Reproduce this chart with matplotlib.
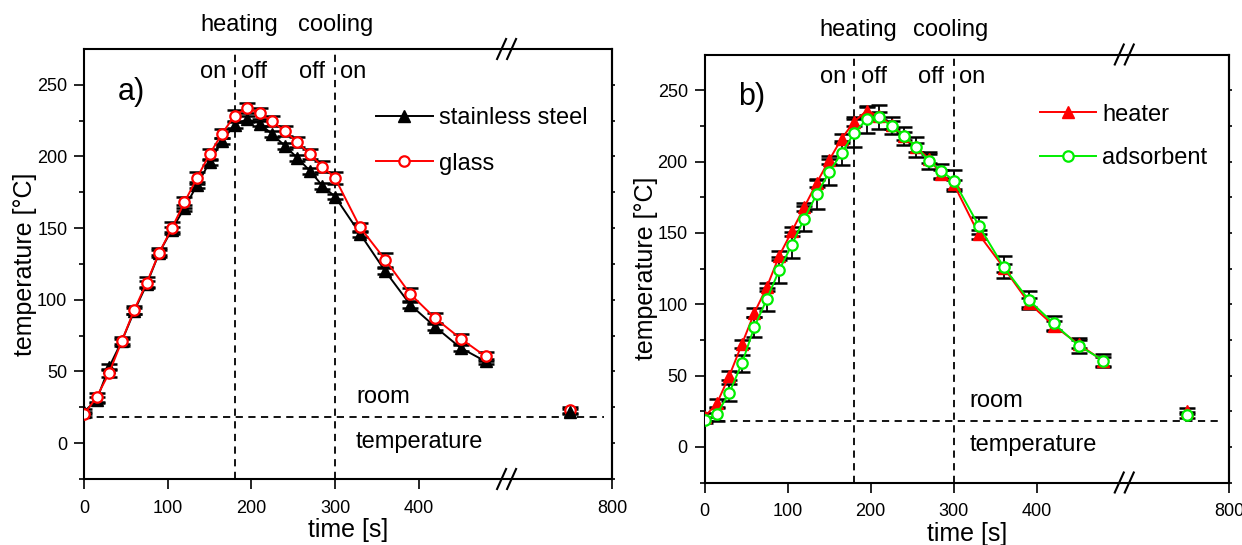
import numpy as np
import matplotlib
matplotlib.use("Agg")
import matplotlib.pyplot as plt

plt.rcParams['font.family'] = ['Liberation Sans', 'DejaVu Sans']

# time points [s]
t = [0, 15, 30, 45, 60, 75, 90, 105, 120, 135, 150, 165, 180, 195, 210,
     225, 240, 255, 270, 285, 300, 330, 360, 390, 420, 450, 480]
t_late = [750]

# panel a)
steel = [22, 30, 53, 71, 92, 111, 133, 149, 164, 180, 196, 211, 222, 226, 223,
         215.5, 207.5, 199, 190, 179.5, 172, 146, 120, 96.5, 81, 66.5, 57]
steel_err = [2] * len(t)
glass = [20, 32, 49, 71, 93, 112, 133, 150, 168, 185, 201.5, 216, 228.5, 234, 230,
         224.5, 217.5, 210, 201.5, 193, 185, 150.5, 128, 104, 87, 73, 60.5]
glass_err = [2, 3, 3, 3, 3, 4, 3, 4, 4, 4, 4, 3, 4, 3.5, 3.5,
             3.5, 3.5, 3.5, 3.5, 4, 4, 3, 5, 4.5, 3.5, 3.5, 3]
steel_late, glass_late = [22], [23]

# panel b)
heater = [21, 30.5, 50, 72, 94, 112, 134, 151, 168, 185, 201, 216, 228, 235.5, 232,
          225.5, 218, 210, 202, 191, 184, 149, 125.5, 101, 85, 72, 60]
heater_err = [3] * len(t)
adsorb = [19, 23, 38, 58.5, 84, 103.5, 124, 141.5, 160, 177, 192.5, 206, 220, 229.5, 231,
          225, 218, 210, 200.5, 193.5, 186.5, 155, 126, 103, 86.5, 71, 60.5]
adsorb_err = [2, 5, 6, 6, 7, 8, 9, 9, 9, 10, 9, 8.5, 10, 9.5, 8.5,
              6, 6.5, 7, 6, 5, 7.5, 6, 8, 6.5, 5, 5.5, 4.5]
heater_late, adsorb_late = [25], [22.5]

B1, B2 = 505, 674   # axis break (collapsed range)


def fwd(x):
    x = np.asarray(x, dtype=float)
    return np.where(x <= B1, x, np.where(x >= B2, x - (B2 - B1), B1))


def inv(y):
    y = np.asarray(y, dtype=float)
    return np.where(y <= B1, y, y + (B2 - B1))


fig = plt.figure(figsize=(12.42, 5.45), dpi=100)
axA = fig.add_axes([84 / 1242, 1 - 479 / 545, 528 / 1242, 430 / 545])
axB = fig.add_axes([704.5 / 1242, 1 - 482.5 / 545, 524.5 / 1242, 428 / 545])

FS = 17


def style(ax, wpx, hpx):
    ax.set_xscale('function', functions=(fwd, inv))
    ax.set_xlim(0, 800)
    ax.set_ylim(-25, 275)
    ax.set_xticks([0, 100, 200, 300, 400, 800])
    ax.set_yticks([0, 50, 100, 150, 200, 250])
    ax.set_yticks(np.arange(-25, 275, 50), minor=True)
    ax.xaxis.set_minor_locator(matplotlib.ticker.NullLocator())
    ax.tick_params(axis='both', which='major', direction='out', length=7,
                   width=1.2, labelsize=13)
    ax.tick_params(axis='y', which='minor', direction='out', length=3.5, width=1.2)
    ax.tick_params(axis='x', pad=8)
    ax.tick_params(axis='y', pad=5)
    for s in ax.spines.values():
        s.set_linewidth(1.5)
    sec = ax.secondary_yaxis('right')
    sec.set_yticks(np.arange(-25, 275, 25))
    sec.tick_params(direction='out', length=2.5, width=1.2, labelright=False)
    sec.spines['right'].set_linewidth(1.5)
    ax.set_xlabel('time [s]', fontsize=FS + 1, labelpad=1)
    ax.set_ylabel('temperature [°C]', fontsize=FS + 1, labelpad=0)
    ax.axhline(18, xmin=0, xmax=0.985, color='black', ls=(0, (4, 3)), lw=1.3)
    ax.axvline(180, color='black', ls=(0, (4, 3)), lw=1.3)
    ax.axvline(300, color='black', ls=(0, (4, 3)), lw=1.3)
    # break marks
    xf = B1 / (800 - (B2 - B1))
    dx, dy = 4.5 / wpx, 10 / hpx
    for yb in (0, 1):
        for off in (-5 / wpx, 5 / wpx):
            ax.plot([xf + off - dx, xf + off + dx], [yb - dy, yb + dy],
                    transform=ax.transAxes, color='black', lw=1.5,
                    clip_on=False, zorder=6)


style(axA, 528, 430)
style(axB, 524.5, 428)

ekw = dict(fmt='none', ecolor='black', elinewidth=1.3, capsize=6, capthick=1.8, zorder=3)

# panel a)
axA.errorbar(t + t_late, steel + steel_late, yerr=steel_err + [2], **ekw)
axA.errorbar(t + t_late, glass + glass_late, yerr=glass_err + [2], **ekw)
lA1, = axA.plot(t, steel, '-^', color='black', lw=1.4, ms=9, zorder=4,
                label='stainless steel')
lA2, = axA.plot(t, glass, '-o', color='red', lw=1.4, ms=7.5, mfc='white',
                mew=1.6, zorder=5, label='glass')
axA.plot(t_late, glass_late, 'o', color='red', ms=7.5, mfc='white', mew=1.6, zorder=4)
axA.plot(t_late, steel_late, '^', color='black', ms=9, zorder=5)

# panel b)
axB.errorbar(t + t_late, heater + heater_late, yerr=heater_err + [2], **ekw)
axB.errorbar(t + t_late, adsorb + adsorb_late, yerr=adsorb_err + [2], **ekw)
lB1, = axB.plot(t, heater, '-^', color='red', lw=1.4, ms=9, zorder=4, label='heater')
lB2, = axB.plot(t, adsorb, '-o', color='#00ee00', lw=1.4, ms=7.5, mfc='white',
                mew=1.6, zorder=5, label='adsorbent')
axB.plot(t_late, heater_late, '^', color='red', ms=9, zorder=4)
axB.plot(t_late, adsorb_late, 'o', color='#00ee00', ms=7.5, mfc='white', mew=1.6, zorder=5)

# annotations
for ax, tag, cool_x, room_x in ((axA, 'a)', 301, 325), (axB, 'b)', 296, 319)):
    ax.text(185, 292, 'heating', fontsize=FS, ha='center', va='center', clip_on=False)
    ax.text(cool_x, 292, 'cooling', fontsize=FS, ha='center', va='center', clip_on=False)
    ax.text(170, 259, 'on', fontsize=FS, ha='right', va='center')
    ax.text(188, 259, 'off', fontsize=FS, ha='left', va='center')
    ax.text(288, 259, 'off', fontsize=FS, ha='right', va='center')
    ax.text(306, 259, 'on', fontsize=FS, ha='left', va='center')
    ax.text(room_x, 32, 'room', fontsize=FS, ha='left', va='center')
    ax.text(room_x, 1, 'temperature', fontsize=FS, ha='left', va='center')
    ax.text(40, 245, tag, fontsize=22, ha='left', va='center')

axA.legend(handles=[lA1, lA2], loc='upper left', bbox_to_anchor=(0.553, 0.865),
           frameon=False, fontsize=FS, handlelength=2.4, handletextpad=0.25,
           labelspacing=1.0, borderpad=0, borderaxespad=0, numpoints=1)
axB.legend(handles=[lB1, lB2], loc='upper left', bbox_to_anchor=(0.639, 0.885),
           frameon=False, fontsize=FS, handlelength=2.4, handletextpad=0.25,
           labelspacing=0.9, borderpad=0, borderaxespad=0, numpoints=1)

fig.savefig('out.png', dpi=100)
